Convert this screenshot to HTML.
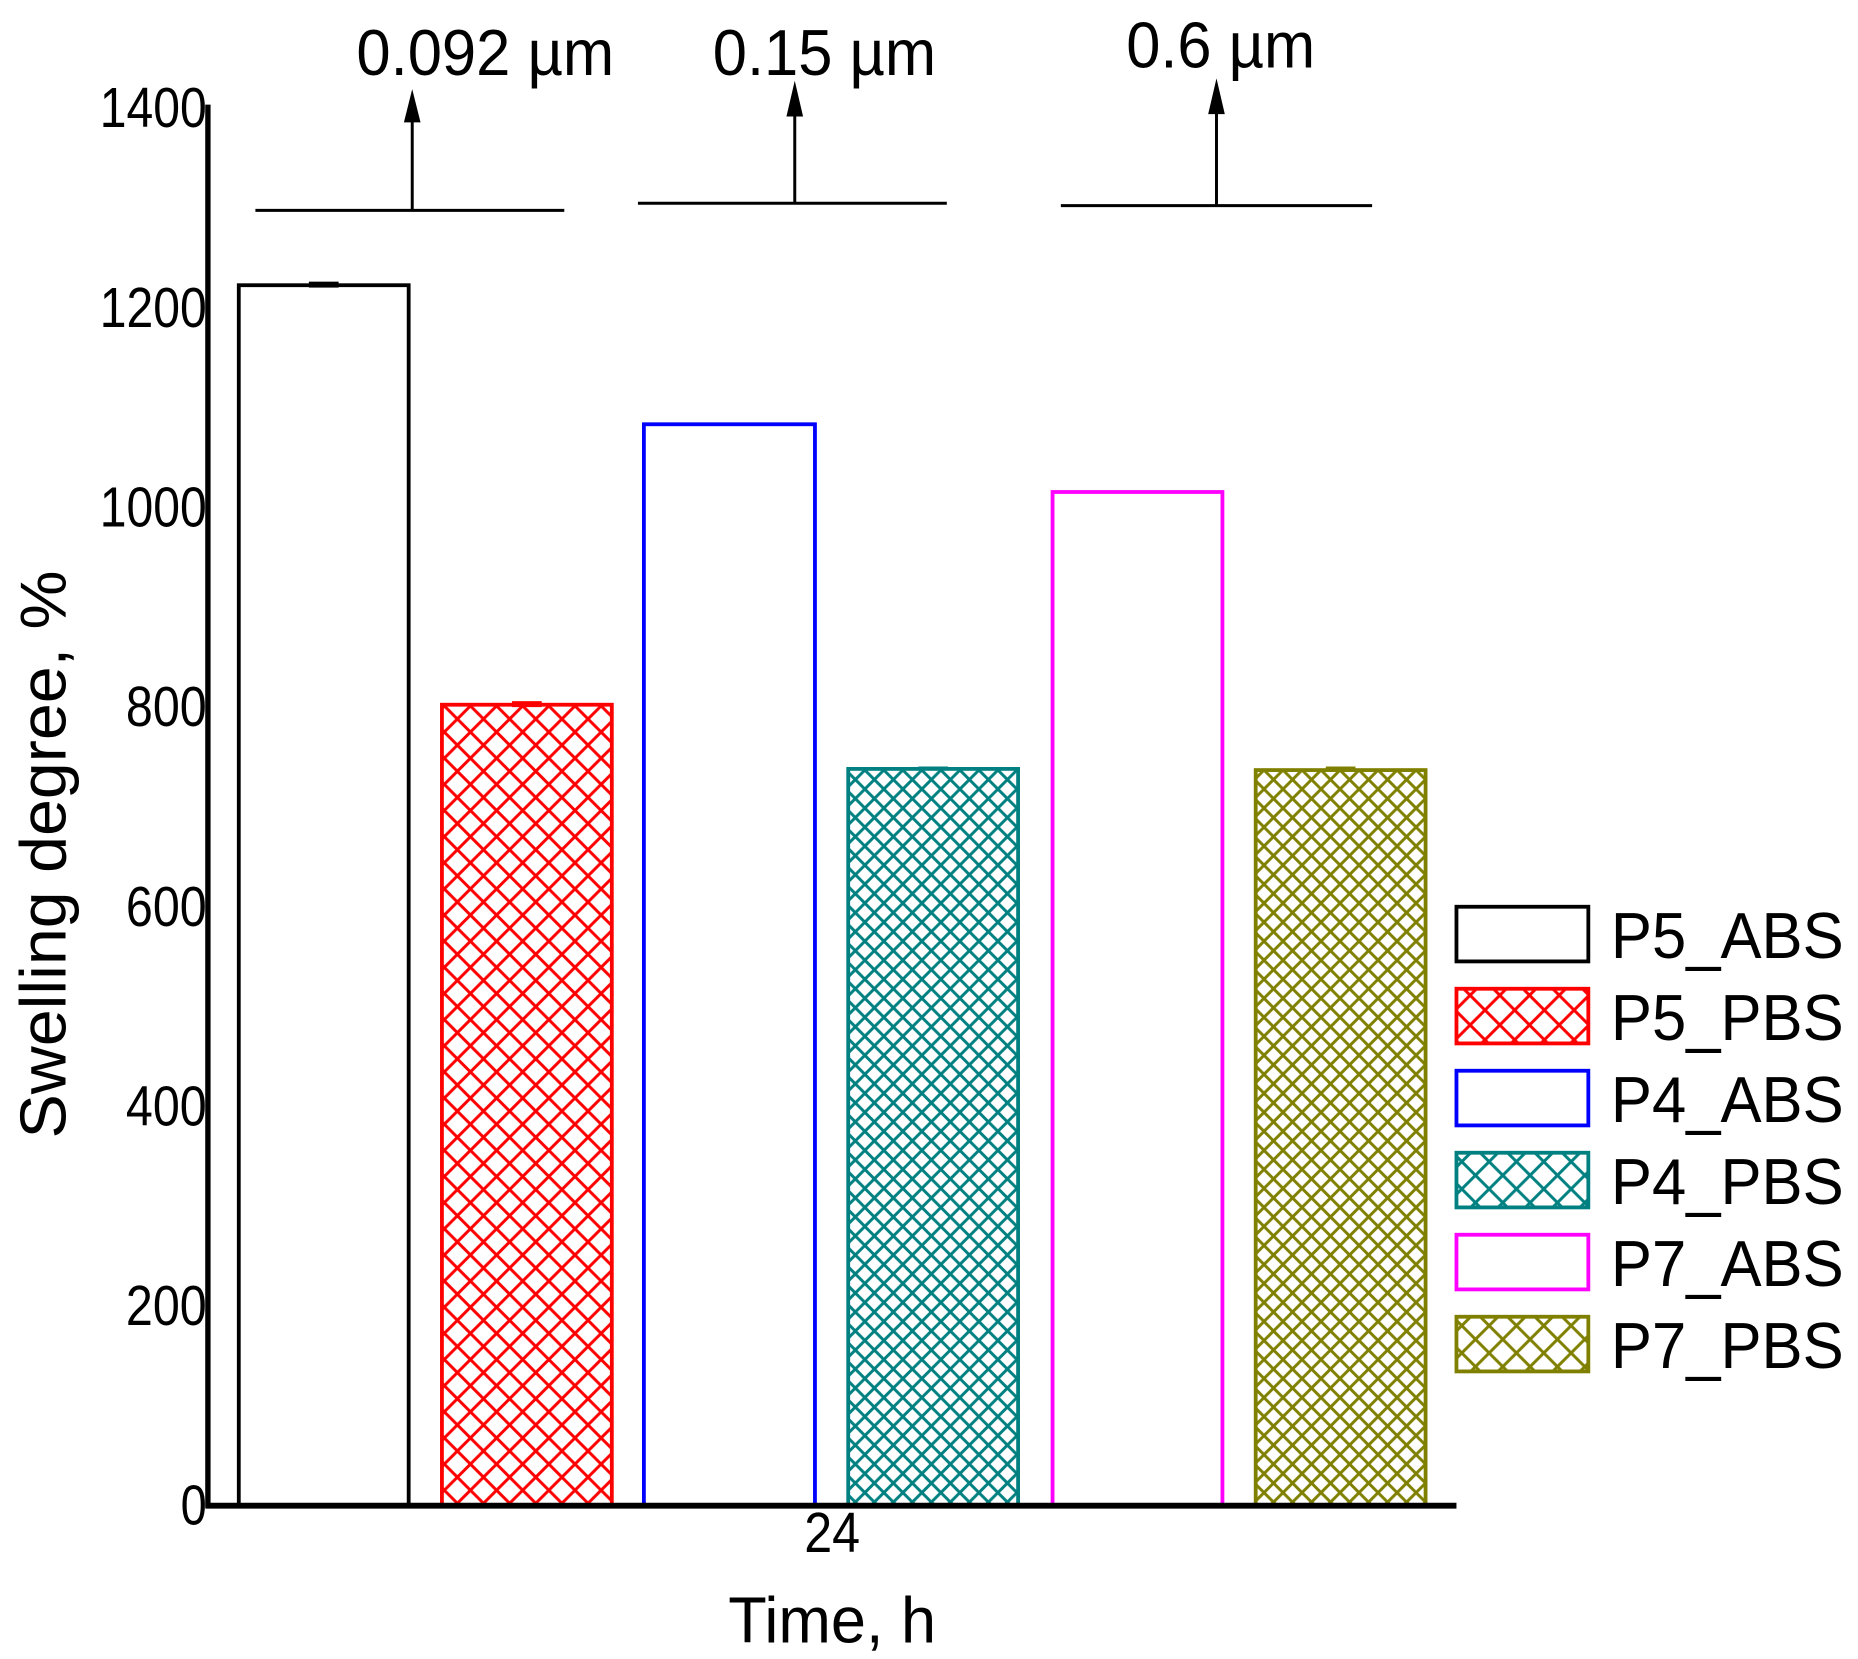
<!DOCTYPE html>
<html><head><meta charset="utf-8"><style>html,body{margin:0;padding:0;background:#fff}svg{display:block}</style></head>
<body>
<svg width="1858" height="1659" viewBox="0 0 1564 1396" preserveAspectRatio="none" xmlns="http://www.w3.org/2000/svg" font-family="Liberation Sans, sans-serif">
<defs>
<pattern id="hr" width="22" height="22" patternUnits="userSpaceOnUse"><path d="M0 0L22 22M22 0L0 22" stroke="#f00" stroke-width="2.5"/></pattern>
<pattern id="ht" width="16" height="16" patternUnits="userSpaceOnUse"><path d="M0 0L16 16M16 0L0 16" stroke="#008080" stroke-width="2.5"/></pattern>
<pattern id="ho" width="16" height="16" patternUnits="userSpaceOnUse"><path d="M0 0L16 16M16 0L0 16" stroke="#808000" stroke-width="2.5"/></pattern>
<pattern id="lr" width="25" height="25" patternUnits="userSpaceOnUse"><path d="M0 0L25 25M25 0L0 25" stroke="#f00" stroke-width="2.5"/></pattern>
<pattern id="lt" width="23" height="23" patternUnits="userSpaceOnUse"><path d="M0 0L23 23M23 0L0 23" stroke="#008080" stroke-width="2.5"/></pattern>
<pattern id="lo" width="23" height="23" patternUnits="userSpaceOnUse"><path d="M0 0L23 23M23 0L0 23" stroke="#808000" stroke-width="2.5"/></pattern>
</defs>
<rect width="1564" height="1396" fill="#fff"/>
<rect x="201" y="240" width="143" height="1027" fill="#fff" stroke="#000" stroke-width="3.2"/>
<rect x="372" y="593" width="143" height="674" fill="url(#hr)" stroke="#f00" stroke-width="3.2"/>
<rect x="542" y="357" width="144" height="910" fill="#fff" stroke="#00f" stroke-width="3.2"/>
<rect x="714" y="647" width="143" height="620" fill="url(#ht)" stroke="#008080" stroke-width="3.2"/>
<rect x="886" y="414" width="143" height="853" fill="#fff" stroke="#f0f" stroke-width="3.2"/>
<rect x="1057" y="648" width="143" height="619" fill="url(#ho)" stroke="#808000" stroke-width="3.2"/>
<rect x="260" y="237" width="25" height="5" fill="#000"/>
<rect x="431" y="590" width="25" height="5" fill="#f00"/>
<rect x="773" y="645" width="25" height="3" fill="#008080"/>
<rect x="1116" y="645" width="25" height="4" fill="#808000"/>
<line x1="175" y1="88" x2="175" y2="1269" stroke="#000" stroke-width="4.5"/>
<line x1="173" y1="1267" x2="1226" y2="1267" stroke="#000" stroke-width="5"/>
<g font-size="48" text-anchor="end" fill="#000">
<text x="174" y="107" textLength="90" lengthAdjust="spacingAndGlyphs">1400</text>
<text x="174" y="275" textLength="90" lengthAdjust="spacingAndGlyphs">1200</text>
<text x="174" y="443" textLength="90" lengthAdjust="spacingAndGlyphs">1000</text>
<text x="174" y="611" textLength="68" lengthAdjust="spacingAndGlyphs">800</text>
<text x="174" y="779" textLength="68" lengthAdjust="spacingAndGlyphs">600</text>
<text x="174" y="947" textLength="68" lengthAdjust="spacingAndGlyphs">400</text>
<text x="174" y="1115" textLength="68" lengthAdjust="spacingAndGlyphs">200</text>
<text x="174" y="1283" textLength="22" lengthAdjust="spacingAndGlyphs">0</text>
</g>
<text x="677" y="1306" font-size="48" textLength="47" lengthAdjust="spacingAndGlyphs">24</text>
<text x="613" y="1382" font-size="55" textLength="175" lengthAdjust="spacingAndGlyphs">Time, h</text>
<text transform="translate(55,958) rotate(-90)" font-size="55" textLength="478" lengthAdjust="spacingAndGlyphs">Swelling degree, %</text>
<g stroke="#000" stroke-width="2.5">
<line x1="215" y1="177" x2="475" y2="177"/><line x1="347" y1="177" x2="347" y2="98"/>
<line x1="537" y1="171" x2="797" y2="171"/><line x1="669" y1="171" x2="669" y2="92"/>
<line x1="893" y1="173" x2="1155" y2="173"/><line x1="1024" y1="173" x2="1024" y2="90"/>
</g>
<polygon points="347,75 340,103 354,103" fill="#000"/>
<polygon points="669,68 662,98 676,98" fill="#000"/>
<polygon points="1024,66 1017,96 1031,96" fill="#000"/>
<g font-size="55" fill="#000">
<text x="300" y="63" textLength="217" lengthAdjust="spacingAndGlyphs">0.092 µm</text>
<text x="600" y="63" textLength="188" lengthAdjust="spacingAndGlyphs">0.15 µm</text>
<text x="948" y="57" textLength="159" lengthAdjust="spacingAndGlyphs">0.6 µm</text>
</g>
<g stroke-width="3.2">
<rect x="1226" y="763" width="111" height="46" fill="#fff" stroke="#000"/>
<rect x="1226" y="832" width="111" height="46" fill="url(#lr)" stroke="#f00"/>
<rect x="1226" y="901" width="111" height="46" fill="#fff" stroke="#00f"/>
<rect x="1226" y="970" width="111" height="46" fill="url(#lt)" stroke="#008080"/>
<rect x="1226" y="1039" width="111" height="46" fill="#fff" stroke="#f0f"/>
<rect x="1226" y="1108" width="111" height="46" fill="url(#lo)" stroke="#808000"/>
</g>
<g font-size="55" fill="#000">
<text x="1356" y="806" textLength="196" lengthAdjust="spacingAndGlyphs">P5_ABS</text>
<text x="1356" y="875" textLength="196" lengthAdjust="spacingAndGlyphs">P5_PBS</text>
<text x="1356" y="944" textLength="196" lengthAdjust="spacingAndGlyphs">P4_ABS</text>
<text x="1356" y="1013" textLength="196" lengthAdjust="spacingAndGlyphs">P4_PBS</text>
<text x="1356" y="1082" textLength="196" lengthAdjust="spacingAndGlyphs">P7_ABS</text>
<text x="1356" y="1151" textLength="196" lengthAdjust="spacingAndGlyphs">P7_PBS</text>
</g>
</svg>
</body></html>
